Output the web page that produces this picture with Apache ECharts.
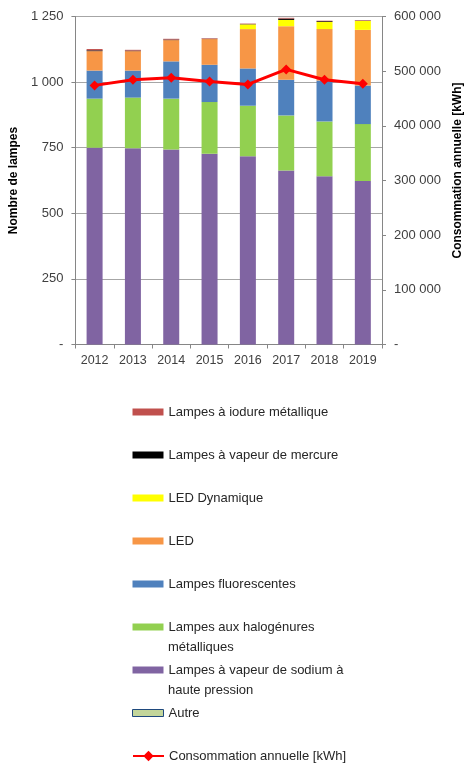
<!DOCTYPE html>
<html>
<head>
<meta charset="utf-8">
<script src="https://cdn.jsdelivr.net/npm/echarts@6/dist/echarts.min.js"></script>
<style>
  html, body { margin: 0; padding: 0; background: #fff; }
  #chart { width: 472px; height: 767px; }
</style>
</head>
<body>
<div id="chart"></div>
<script>
const years = ['2012', '2013', '2014', '2015', '2016', '2017', '2018', '2019']

// stacked from bottom to top
const autre = [0, 0, 0, 0, 0, 0, 0, 0]
const sodium = [750, 748, 743, 727, 717, 663, 641, 623]
const halogenures = [187, 193, 194, 197, 193, 210, 209, 217]
const fluorescentes = [107, 103, 142, 142, 142, 136, 156, 147]
const led = [74, 74, 81, 98, 150, 204, 196, 212]
const ledDynamique = [0, 0, 0, 0, 18, 24, 27, 34]
const mercure = [3, 2, 2, 1, 1, 5, 3, 1]
const iodure = [5, 3, 3, 2, 2, 3, 2, 2]

const consommation = [474000, 484400, 488000, 481300, 475800, 503200, 484400, 477000]

const FONT = 'Liberation Sans'
const TXT = '#404040'
const GRID = '#a6a6a6'

const fmt = v => v === 0 ? '-' : String(v).replace(/\B(?=(\d{3})+(?!\d))/g, ' ')

// legend text split on two lines like the original
const wrapped = {
  'Lampes aux halogénures métalliques': ['Lampes aux halogénures', 'métalliques'],
  'Lampes à vapeur de sodium à haute pression': ['Lampes à vapeur de sodium à', 'haute pression']
}

const bar = (name, data, color) => ({
  name, type: 'bar', stack: 'lampes', data, barWidth: 16,
  itemStyle: { color }, emphasis: { disabled: true }
})

const legendText = { color: '#262626', fontSize: 13, lineHeight: 16, fontFamily: FONT }

const chart = echarts.init(document.getElementById('chart'))
chart.setOption({
  animation: false,
  textStyle: { fontFamily: FONT },
  grid: { left: 73, right: 82, top: 16.5, bottom: 422.5 },
  xAxis: {
    type: 'category', data: years,
    axisLine: { lineStyle: { color: '#868686' } },
    axisTick: { show: true, length: 4, lineStyle: { color: '#868686' } },
    axisLabel: { color: TXT, fontSize: 12.5, margin: 10 }
  },
  yAxis: [
    { type: 'value', min: 0, max: 1250, interval: 250, position: 'left',
      name: 'Nombre de lampes', nameLocation: 'middle', nameRotate: 90, nameGap: 53,
      nameTextStyle: { color: '#000', fontWeight: 'bold', fontSize: 12 },
      axisLine: { show: true, lineStyle: { color: '#868686' } },
      axisTick: { show: true, length: 4, lineStyle: { color: '#868686' } },
      axisLabel: { color: TXT, fontSize: 13, margin: 12, formatter: fmt },
      splitLine: { lineStyle: { color: GRID } } },
    { type: 'value', min: 0, max: 600000, interval: 100000, position: 'right',
      name: 'Consommation annuelle [kWh]', nameLocation: 'middle', nameRotate: 90, nameGap: 70,
      nameTextStyle: { color: '#000', fontWeight: 'bold', fontSize: 12, padding: [0, 0, 0, 20] },
      axisLine: { show: true, lineStyle: { color: '#868686' } },
      axisTick: { show: true, length: 4, lineStyle: { color: '#868686' } },
      axisLabel: { color: TXT, fontSize: 13, margin: 12, formatter: fmt },
      splitLine: { show: false } }
  ],
  legend: [
    { orient: 'vertical', left: 132, top: 404, padding: 0,
      itemWidth: 31, itemHeight: 7, itemGap: 27, icon: 'rect',
      textStyle: legendText,
      formatter: n => wrapped[n] ? wrapped[n][0] : n,
      data: [
        'Lampes à iodure métallique',
        'Lampes à vapeur de mercure',
        'LED Dynamique',
        'LED',
        'Lampes fluorescentes',
        'Lampes aux halogénures métalliques',
        'Lampes à vapeur de sodium à haute pression',
        { name: 'Autre', itemStyle: { borderColor: '#1f497d', borderWidth: 1 } }
      ] },
    { orient: 'vertical', left: 132, top: 748, padding: 0,
      itemWidth: 31, itemHeight: 13,
      textStyle: legendText,
      data: ['Consommation annuelle [kWh]'] }
  ],
  graphic: [
    { type: 'text', left: 168, top: 641, style: { text: wrapped['Lampes aux halogénures métalliques'][1], font: '13px ' + FONT, fill: '#262626' } },
    { type: 'text', left: 168, top: 684, style: { text: wrapped['Lampes à vapeur de sodium à haute pression'][1], font: '13px ' + FONT, fill: '#262626' } }
  ],
  series: [
    bar('Autre', autre, '#c3d69b'),
    bar('Lampes à vapeur de sodium à haute pression', sodium, '#8064a2'),
    bar('Lampes aux halogénures métalliques', halogenures, '#92d050'),
    bar('Lampes fluorescentes', fluorescentes, '#4f81bd'),
    bar('LED', led, '#f79646'),
    bar('LED Dynamique', ledDynamique, '#ffff00'),
    bar('Lampes à vapeur de mercure', mercure, '#000000'),
    bar('Lampes à iodure métallique', iodure, '#c0504d'),
    { name: 'Consommation annuelle [kWh]', type: 'line', yAxisIndex: 1, data: consommation,
      symbol: 'diamond', symbolSize: 10, color: '#ff0000',
      lineStyle: { color: '#ff0000', width: 3 }, itemStyle: { color: '#ff0000' } }
  ]
})
</script>
</body>
</html>
